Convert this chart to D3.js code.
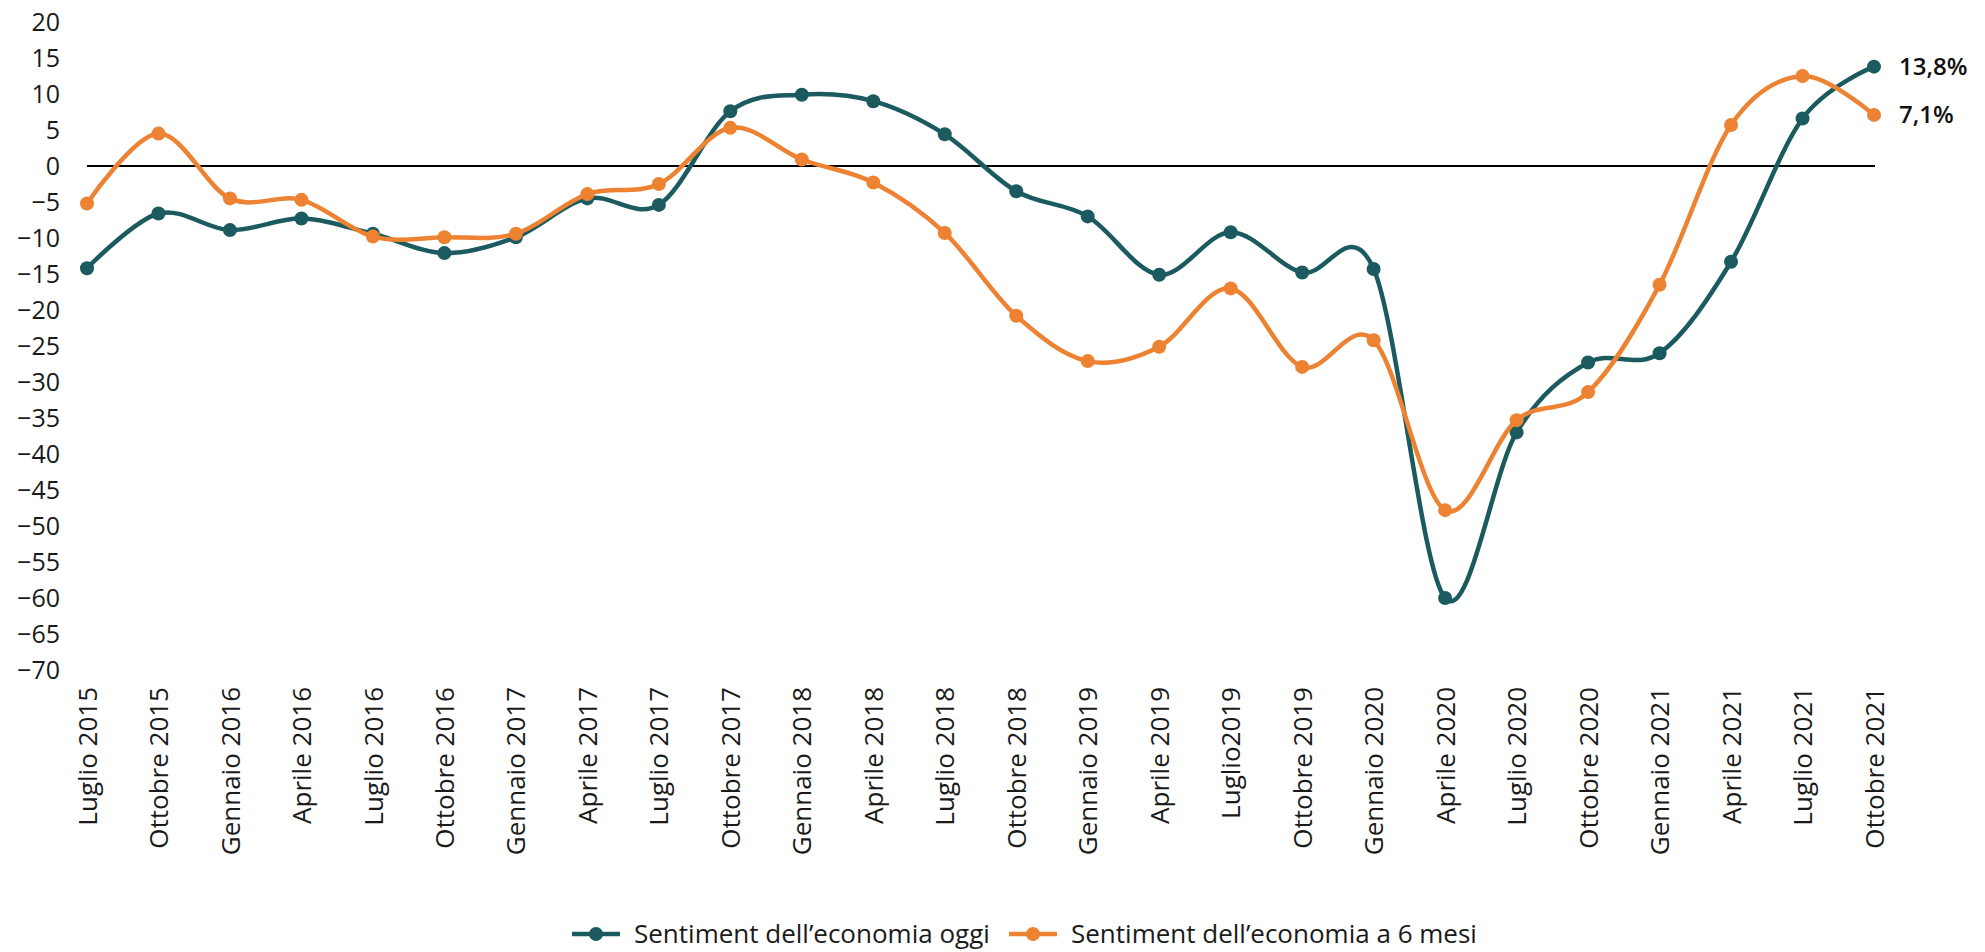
<!DOCTYPE html>
<html>
<head>
<meta charset="utf-8">
<title>Sentiment dell'economia</title>
<script src="https://d3js.org/d3.v7.min.js"></script>
<style>
  body { margin: 0; background: #fff; font-family: "Open Sans", Lato, sans-serif; }
  svg { display: block; }
  .tick text { fill: #1a1a1a; }
</style>
</head>
<body>
<script>
// categorie trimestrali
var mesi = ["Luglio 2015","Ottobre 2015","Gennaio 2016","Aprile 2016","Luglio 2016","Ottobre 2016",
  "Gennaio 2017","Aprile 2017","Luglio 2017","Ottobre 2017","Gennaio 2018","Aprile 2018",
  "Luglio 2018","Ottobre 2018","Gennaio 2019","Aprile 2019","Luglio2019","Ottobre 2019",
  "Gennaio 2020","Aprile 2020","Luglio 2020","Ottobre 2020","Gennaio 2021","Aprile 2021",
  "Luglio 2021","Ottobre 2021"];
// sentiment oggi
var oggi = [-14.2,-6.6,-8.9,-7.3,-9.4,-12.1,-9.9,-4.5,-5.4,7.6,9.9,9.0,
  4.4,-3.5,-7.0,-15.1,-9.2,-14.8,-14.3,-60.0,-37.0,-27.3,-26.0,-13.3,6.6,13.8];
// sentiment a 6 mesi
var seiMesi = [-5.2,4.5,-4.5,-4.7,-9.8,-9.9,-9.4,-3.9,-2.5,5.3,0.9,-2.3,
  -9.3,-20.8,-27.1,-25.1,-17.0,-27.9,-24.2,-47.8,-35.3,-31.4,-16.5,5.7,12.5,7.1];
var yTicks = [20,15,10,5,0,-5,-10,-15,-20,-25,-30,-35,-40,-45,-50,-55,-60,-65,-70];
var serie = [
  {nome: "Sentiment dell\u2019economia oggi", valori: oggi, colore: "#1b5b5f", etichetta: "13,8%"},
  {nome: "Sentiment dell\u2019economia a 6 mesi", valori: seiMesi, colore: "#ed8232", etichetta: "7,1%"}
];

var width = 1985, height = 952;
var font = "'Open Sans', Lato, sans-serif";
var svg = d3.select("body").append("svg").attr("width", width).attr("height", height);

var x = d3.scalePoint().domain(mesi).range([87, 1874]);
var y = d3.scaleLinear().domain([-70, 20]).range([670, 22]);

// asse y (solo etichette)
var yAxis = svg.append("g").attr("transform", "translate(70,0)")
  .call(d3.axisLeft(y).tickValues(yTicks).tickSize(0).tickPadding(10).tickFormat(d3.format("d")));
yAxis.select(".domain").remove();
yAxis.selectAll("text").style("font-size", "25px").style("font-family", font);

// asse x con etichette ruotate
var xAxis = svg.append("g").attr("transform", "translate(0,680)")
  .call(d3.axisBottom(x).tickSize(0).tickPadding(0));
xAxis.select(".domain").remove();
xAxis.selectAll("text")
  .style("font-size", "26px").style("font-family", font)
  .attr("text-anchor", "end")
  .attr("transform", "rotate(-90)")
  .attr("x", -7).attr("y", 0).attr("dy", "0.35em");

// linea dello zero
svg.append("line")
  .attr("x1", x(mesi[0])).attr("x2", x(mesi[mesi.length - 1]) + 1)
  .attr("y1", y(0)).attr("y2", y(0))
  .attr("stroke", "#000").attr("stroke-width", 2);

var linea = d3.line()
  .x(function(d, i){ return x(mesi[i]); })
  .y(function(d){ return y(d); })
  .curve(d3.curveCatmullRom.alpha(0));

serie.forEach(function(s){
  svg.append("path").datum(s.valori)
    .attr("d", linea).attr("fill", "none")
    .attr("stroke", s.colore).attr("stroke-width", 4.5);
  svg.append("g").selectAll("circle").data(s.valori).enter().append("circle")
    .attr("cx", function(d, i){ return x(mesi[i]); })
    .attr("cy", function(d){ return y(d); })
    .attr("r", 7).attr("fill", s.colore);
  var ultimo = s.valori[s.valori.length - 1];
  svg.append("text")
    .attr("x", x(mesi[mesi.length - 1]) + 25).attr("y", y(ultimo)).attr("dy", "0.35em")
    .style("font-size", "24px").style("font-weight", 600).style("font-family", font)
    .attr("fill", "#111")
    .text(s.etichetta);
});

// legenda
var legX = [572, 1009];
serie.forEach(function(s, i){
  var g = svg.append("g").attr("transform", "translate(" + legX[i] + ",934)");
  g.append("line").attr("x1", 0).attr("x2", 48).attr("y1", 0).attr("y2", 0)
    .attr("stroke", s.colore).attr("stroke-width", 4.5);
  g.append("circle").attr("cx", 24).attr("cy", 0).attr("r", 7).attr("fill", s.colore);
  g.append("text").attr("x", 62).attr("y", 0).attr("dy", "0.35em")
    .style("font-size", "26px").style("font-family", font)
    .attr("fill", "#1a1a1a").text(s.nome);
});
</script>
</body>
</html>
